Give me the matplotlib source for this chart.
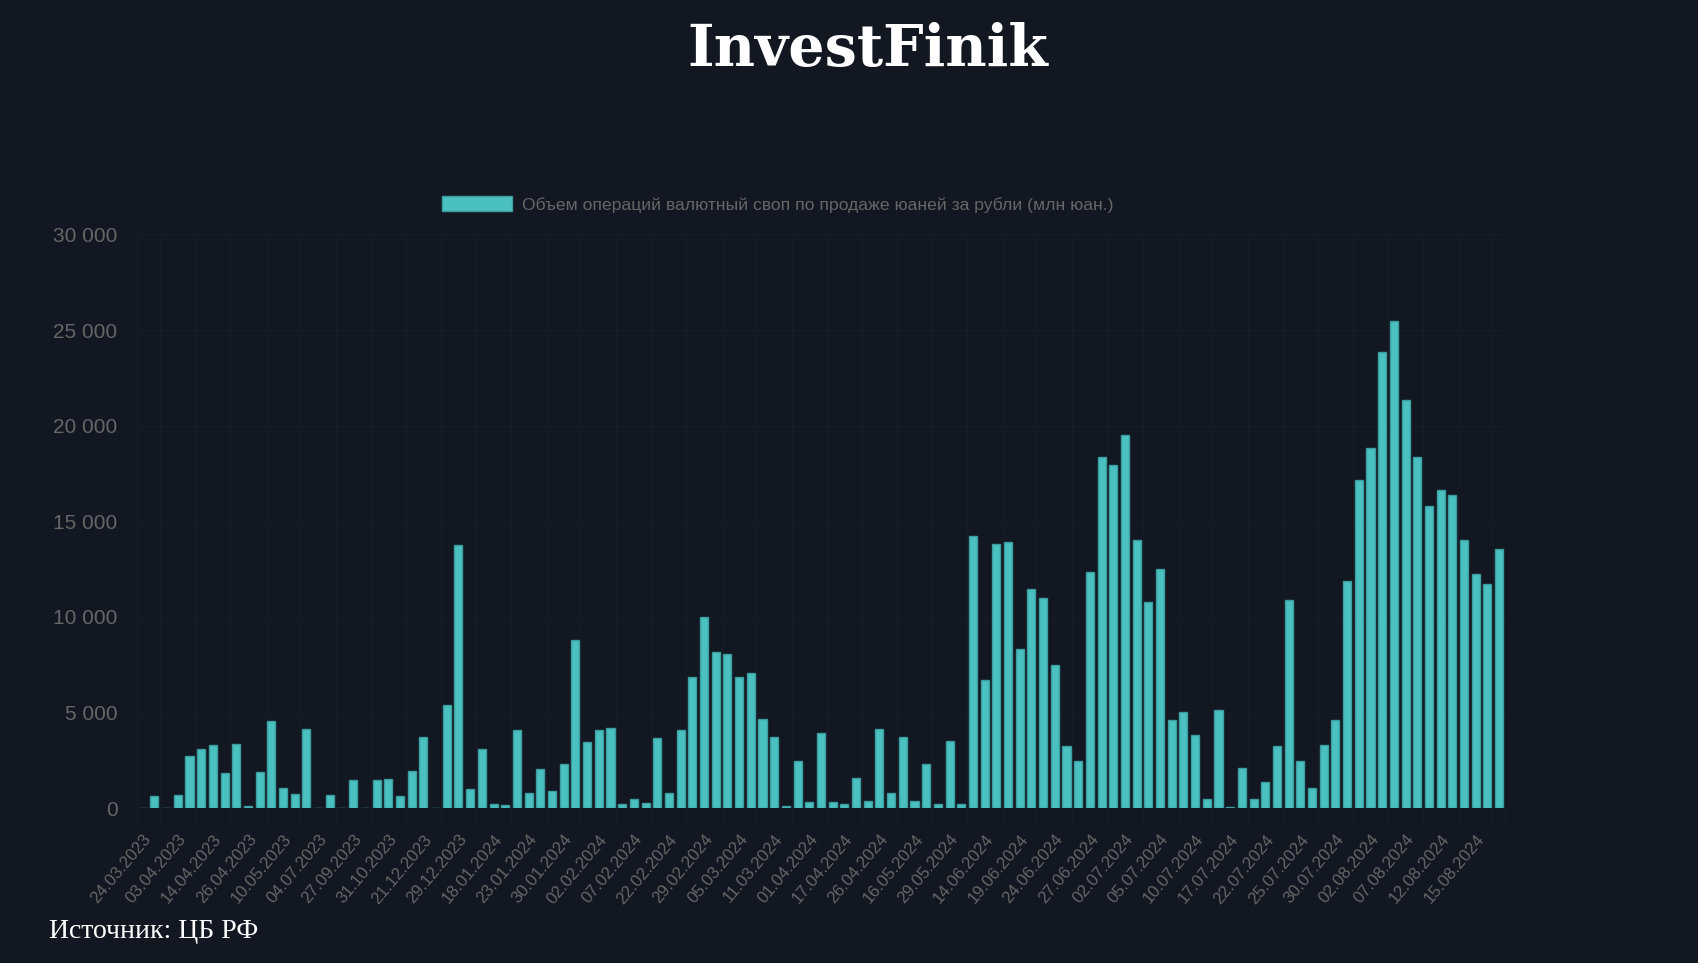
import numpy as np
import matplotlib
matplotlib.use("Agg")
import matplotlib.pyplot as plt

BG = "#131722"
BAR = "#4bc0c0"
BAR_EDGE = "#3a9e9e"
GRID = "#181c27"
TXT = "#666666"

# CB RF FX swap volume, mln CNY (one bar per auction date)
volumes = [
    40, 660, 40, 690, 2750, 3100, 3330, 1850, 3350, 120,
    1880, 4550, 1060, 730, 4130, 30, 690, 30, 1460, 0,
    1460, 1515, 625, 1930, 3710, 30, 5400, 13760, 990, 3080,
    210, 160, 4090, 780, 2050, 890, 2300, 8800, 3480, 4090,
    4180, 220, 470, 260, 3680, 780, 4090, 6850, 10020, 8150,
    8050, 6870, 7090, 4650, 3710, 100, 2460, 350, 3920, 350,
    220, 1570, 370, 4130, 820, 3745, 370, 2330, 220, 3500,
    240, 14250, 6690, 13800, 13900, 8330, 11480, 11010, 7490, 3270,
    2460, 12350, 18360, 17950, 19530, 14010, 10770, 12510, 4620, 5050,
    3850, 470, 5140, 50, 2120, 470, 1360, 3240, 10900, 2470,
    1045, 3300, 4640, 11900, 17180, 18850, 23850, 25490, 21360, 18380,
    15790, 16660, 16390, 14010, 12230, 11710, 13540,
]

# only every third date is shown on the axis
tick_dates = [
    "24.03.2023", "03.04.2023", "14.04.2023", "26.04.2023", "10.05.2023",
    "04.07.2023", "27.09.2023", "31.10.2023", "21.12.2023", "29.12.2023",
    "18.01.2024", "23.01.2024", "30.01.2024", "02.02.2024", "07.02.2024",
    "22.02.2024", "29.02.2024", "05.03.2024", "11.03.2024", "01.04.2024",
    "17.04.2024", "26.04.2024", "16.05.2024", "29.05.2024", "14.06.2024",
    "19.06.2024", "24.06.2024", "27.06.2024", "02.07.2024", "05.07.2024",
    "10.07.2024", "17.07.2024", "22.07.2024", "25.07.2024", "30.07.2024",
    "02.08.2024", "07.08.2024", "12.08.2024", "15.08.2024",
]
TICK_STEP = 3
y_ticks = [0, 5000, 10000, 15000, 20000, 25000, 30000]

LEGEND = "Объем операций валютный своп по продаже юаней за рубли (млн юан.)"

plt.rcParams["font.family"] = ["Liberation Sans", "DejaVu Sans"]

W, H = 1698, 963
fig = plt.figure(figsize=(W / 100, H / 100), dpi=100, facecolor=BG)
ax = fig.add_axes([136.9 / W, 1 - 808.3 / H, (1505 - 136.9) / W, (808.3 - 234.4) / H])
ax.set_facecolor(BG)

x = np.arange(len(volumes))
bars = ax.bar(x, volumes, width=0.69, color=BAR, edgecolor=BAR_EDGE, linewidth=1.0,
              label=LEGEND, zorder=3)

ax.set_xlim(-0.5, len(volumes) - 0.5)
ax.set_ylim(0, 30000)

ax.set_xticks(x[::TICK_STEP])
ax.set_xticklabels(tick_dates, rotation=50, ha="right", va="top",
                   rotation_mode="anchor", fontsize=12.2, color=TXT)
ax.tick_params(axis="x", which="major", length=0, pad=17)
minor = np.concatenate(([-0.5], np.arange(1.5, len(volumes) - 1, TICK_STEP), [len(volumes) - 0.5]))
ax.set_xticks(minor, minor=True)
ax.tick_params(axis="x", which="minor", length=10, width=1, color=GRID)
ax.grid(True, which="minor", axis="x", color=GRID, lw=1, zorder=0)

ax.set_yticks(y_ticks)
ax.set_yticklabels([f"{v:,}".replace(",", " ") for v in y_ticks], fontsize=15, color=TXT)
ax.tick_params(axis="y", length=0, pad=14)
ax.grid(True, which="major", axis="y", color=GRID, lw=1, zorder=0)
for s in ax.spines.values():
    s.set_visible(False)

fig.legend(handles=[bars], labels=[LEGEND], loc="center left",
           bbox_to_anchor=(442 / W, 1 - 204.5 / H), frameon=False, fontsize=12.6,
           labelcolor=TXT, handlelength=4.0, handleheight=0.95, handletextpad=0.55,
           borderpad=0, borderaxespad=0)

fig.text(868 / W, 1 - 50 / H, "InvestFinik", ha="center", va="center", color="white",
         fontsize=41, fontweight="bold", family="DejaVu Serif")
fig.text(49 / W, 1 - 931 / H, "Источник: ЦБ РФ", ha="left", va="center", color="white",
         fontsize=20, family="Liberation Serif")

fig.savefig("out.png", dpi=100, facecolor=BG)
